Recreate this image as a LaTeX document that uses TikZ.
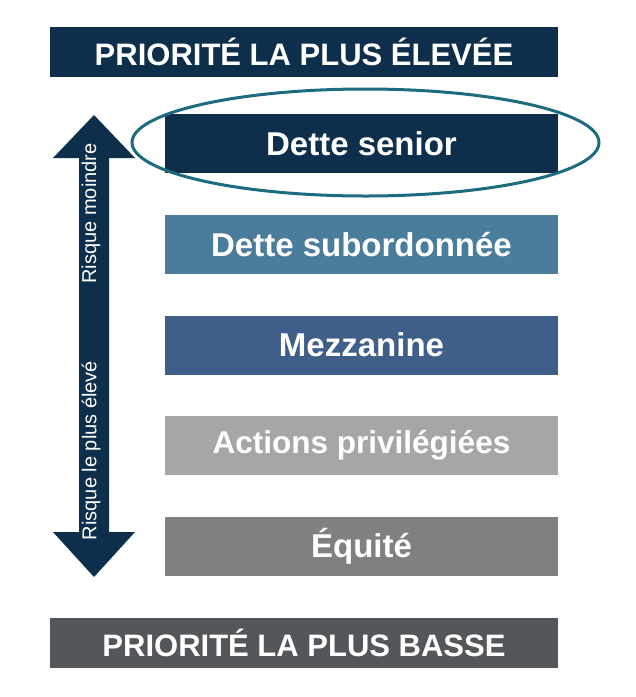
\documentclass[tikz,border=0pt]{standalone}
\usepackage{fontspec}
\setmainfont{Liberation Sans}
\definecolor{navy}{HTML}{0E2F4B}
\definecolor{subord}{HTML}{4A7C9C}
\definecolor{mezz}{HTML}{3F5F89}
\definecolor{actgray}{HTML}{A6A6A6}
\definecolor{eqgray}{HTML}{808080}
\definecolor{lowgray}{HTML}{54575A}
\definecolor{ringteal}{HTML}{1D6B7E}
\begin{document}
\begin{tikzpicture}[x=1pt,y=-1pt,
  bar/.style={minimum width=508pt, minimum height=50pt, inner sep=0pt, text=white,
    font=\fontsize{31}{36}\selectfont\bfseries},
  tier/.style={minimum width=393pt, minimum height=59pt, inner sep=0pt, text=white,
    font=\fontsize{33}{38}\selectfont\bfseries},
  risk/.style={rotate=90, text=white, inner sep=0pt, font=\fontsize{20}{24}\selectfont}]
\useasboundingbox (0,0) rectangle (636,697);
% headers
\node[bar, fill=navy] (top) at (304,52) {PRIORITÉ LA PLUS ÉLEVÉE};
\node[bar, fill=lowgray] (bottom) at (304,642.5) {PRIORITÉ LA PLUS BASSE};
% tiers
\node[tier, fill=navy] (senior) at (361.5,143.5) {Dette senior};
\node[tier, fill=subord] (sub) at (361.5,244.5) {Dette subordonnée};
\node[tier, fill=mezz] (mezz) at (361.5,345) {Mezzanine};
\node[tier, fill=actgray, font=\fontsize{31.5}{36}\selectfont\bfseries] (act) at (361.5,445.5) {Actions privilégiées};
\node[tier, fill=eqgray] (eq) at (361.5,546) {Équité};
% highlight ring
\draw[ringteal, line width=3pt] (365.5,142.5) ellipse [x radius=233.5, y radius=53.5];
% double arrow
\fill[navy] (94,115) -- (135,158) -- (109,158) -- (109,532) -- (135,532) -- (94,577)
  -- (53,532) -- (79,532) -- (79,158) -- (53,158) -- cycle;
\node[risk] (low) at (91,213.5) {Risque moindre};
\node[risk] (high) at (91,450.5) {Risque le plus élevé};
\end{tikzpicture}
\end{document}
